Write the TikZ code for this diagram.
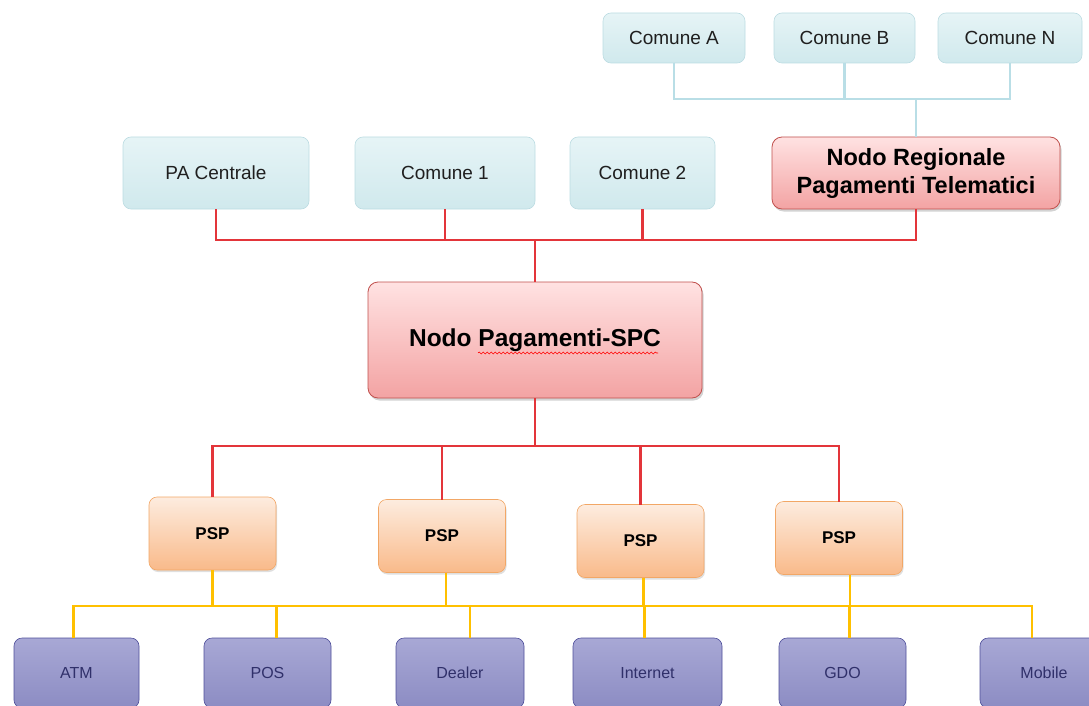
\documentclass[tikz,border=0pt]{standalone}
\usepackage{fontspec}
\setmainfont{Liberation Sans}
\usepackage{tikz}
\usetikzlibrary{arrows,positioning,shadows,decorations.pathmorphing}
\usepackage{xcolor}

\definecolor{comtop}{HTML}{E6F4F6}
\definecolor{combot}{HTML}{D0E9ED}
\definecolor{comdraw}{HTML}{BCDCE2}
\definecolor{nodotop}{HTML}{FFE2E2}
\definecolor{nodobot}{HTML}{F3A3A3}
\definecolor{nododraw}{HTML}{C0504D}
\definecolor{psptop}{HTML}{FDECDF}
\definecolor{pspbot}{HTML}{F9BA8A}
\definecolor{pspdraw}{HTML}{F2A766}
\definecolor{chantop}{HTML}{A8A8D5}
\definecolor{chanbot}{HTML}{8C8CC3}
\definecolor{chandraw}{HTML}{4E4E9A}
\definecolor{chantext}{HTML}{30306A}
\definecolor{redwire}{HTML}{E3353A}
\definecolor{bluewire}{HTML}{B9DEE6}
\definecolor{yellowwire}{HTML}{FFC000}

\begin{document}
\begin{tikzpicture}[x=1pt,y=-1pt,auto,semithick]
  \tikzstyle{comune}=[rectangle,rounded corners=8pt,draw=comdraw,top color=comtop,bottom color=combot,
                      inner sep=0pt,outer sep=0pt,text=black!88,font=\fontsize{19}{22}\selectfont]
  \tikzstyle{nodo}=[rectangle,rounded corners=10pt,draw=nododraw,thick,top color=nodotop,bottom color=nodobot,
                    inner sep=0pt,outer sep=0pt,align=center,
                    drop shadow={opacity=0.35,shadow xshift=1.5pt,shadow yshift=-2.5pt}]
  \tikzstyle{psp}=[rectangle,rounded corners=8pt,draw=pspdraw,top color=psptop,bottom color=pspbot,
                   minimum width=127pt,minimum height=73pt,inner sep=0pt,outer sep=0pt,
                   font=\bfseries\fontsize{17}{19}\selectfont,
                   drop shadow={opacity=0.25,shadow xshift=1pt,shadow yshift=-2pt}]
  \tikzstyle{canale}=[rectangle,rounded corners=8pt,draw=chandraw,top color=chantop,bottom color=chanbot,
                      minimum height=70pt,inner sep=0pt,outer sep=0pt,text=chantext,
                      font=\fontsize{16}{18}\selectfont]
  \tikzstyle{redline}=[draw=redwire,line width=2.8pt]
  \tikzstyle{blueline}=[draw=bluewire,line width=2.2pt]
  \tikzstyle{yline}=[draw=yellowwire,line width=2.8pt]

  \useasboundingbox (0,0) rectangle (1089,706);
  \clip (0,0) rectangle (1089,706);

  % comuni aggregati al nodo regionale
  \node[comune,minimum height=50pt,minimum width=142pt] (coma) at (674,38) {Comune A};
  \node[comune,minimum height=50pt,minimum width=141pt] (comb) [right=29pt of coma] {Comune B};
  \node[comune,minimum height=50pt,minimum width=144pt] (comn) [right=23pt of comb] {Comune N};

  % enti
  \node[comune,minimum height=72pt,minimum width=186pt] (pac) at (216,173) {PA Centrale};
  \node[comune,minimum height=72pt,minimum width=180pt] (com1) [right=46pt of pac] {Comune 1};
  \node[comune,minimum height=72pt,minimum width=145pt] (com2) [right=35pt of com1] {Comune 2};
  \node[nodo,minimum height=72pt,minimum width=288pt,font=\bfseries\fontsize{23.5}{28}\selectfont]
       (nrpt) [right=57pt of com2] {Nodo Regionale\\Pagamenti Telematici};

  % nodo centrale
  \node[nodo,minimum height=116pt,minimum width=334pt,font=\bfseries\fontsize{24.5}{28}\selectfont]
       (nps) at (535,340) {Nodo Pagamenti-SPC};
  \draw[red,line width=0.6pt,decorate,decoration={snake,amplitude=1pt,segment length=4pt}]
       ([shift={(-57,13)}]nps.center) -- ([shift={(123,13)}]nps.center);

  % prestatori
  \node[psp] (psp1) at (212.5,533.5) {PSP};
  \node[psp] (psp2) at (442,536)     {PSP};
  \node[psp] (psp3) at (640.5,541)   {PSP};
  \node[psp] (psp4) at (839,538)     {PSP};

  % canali
  \node[canale,minimum width=125pt] (atm) at (76.5,673)  {ATM};
  \node[canale,minimum width=127pt] (pos) at (267.5,673) {POS};
  \node[canale,minimum width=128pt] (dea) at (460,673)   {Dealer};
  \node[canale,minimum width=149pt] (int) at (647.5,673) {Internet};
  \node[canale,minimum width=127pt] (gdo) at (842.5,673) {GDO};
  \node[canale,minimum width=128pt] (mob) at (1044,673)  {Mobile};

  \coordinate (bbus)  at (916,99);
  \coordinate (rbus1) at (535,240);
  \coordinate (rbus2) at (535,446);
  \coordinate (ybus)  at (540,606);

  % attacchi (leggermente fuori asse come nell'originale)
  \coordinate (p1bot) at ([xshift=0pt]psp1.south);
  \coordinate (p2bot) at ([xshift=4pt]psp2.south);
  \coordinate (p3bot) at ([xshift=3pt]psp3.south);
  \coordinate (p4bot) at ([xshift=11pt]psp4.south);
  \coordinate (atmtop) at ([xshift=-3pt]atm.north);
  \coordinate (postop) at ([xshift=9pt]pos.north);
  \coordinate (deatop) at ([xshift=10pt]dea.north);
  \coordinate (inttop) at ([xshift=-3pt]int.north);
  \coordinate (gdotop) at ([xshift=7pt]gdo.north);
  \coordinate (mobtop) at ([xshift=-12pt]mob.north);

  \draw[blueline] (coma.south) |- (bbus) -| (comn.south);
  \draw[blueline] (comb.south) -- (comb |- bbus);
  \draw[blueline] (bbus) -- (nrpt.north);

  \draw[redline] (pac.south) |- (rbus1) -| (nrpt.south);
  \draw[redline] (com1.south) -- (com1 |- rbus1);
  \draw[redline] (com2.south) -- (com2 |- rbus1);
  \draw[redline] (rbus1) -- (nps.north);

  \draw[redline] (nps.south) -- (rbus2);
  \draw[redline] (psp1.north) |- (rbus2) -| (psp4.north);
  \draw[redline] (psp2.north) -- (psp2 |- rbus2);
  \draw[redline] (psp3.north) -- (psp3 |- rbus2);

  \foreach \n in {p1bot,p2bot,p3bot,p4bot}
    \draw[yline] (\n) -- (\n |- ybus);
  \draw[yline] (atmtop) |- (ybus) -| (mobtop);
  \foreach \n in {postop,deatop,inttop,gdotop}
    \draw[yline] (\n) -- (\n |- ybus);
\end{tikzpicture}
\end{document}
